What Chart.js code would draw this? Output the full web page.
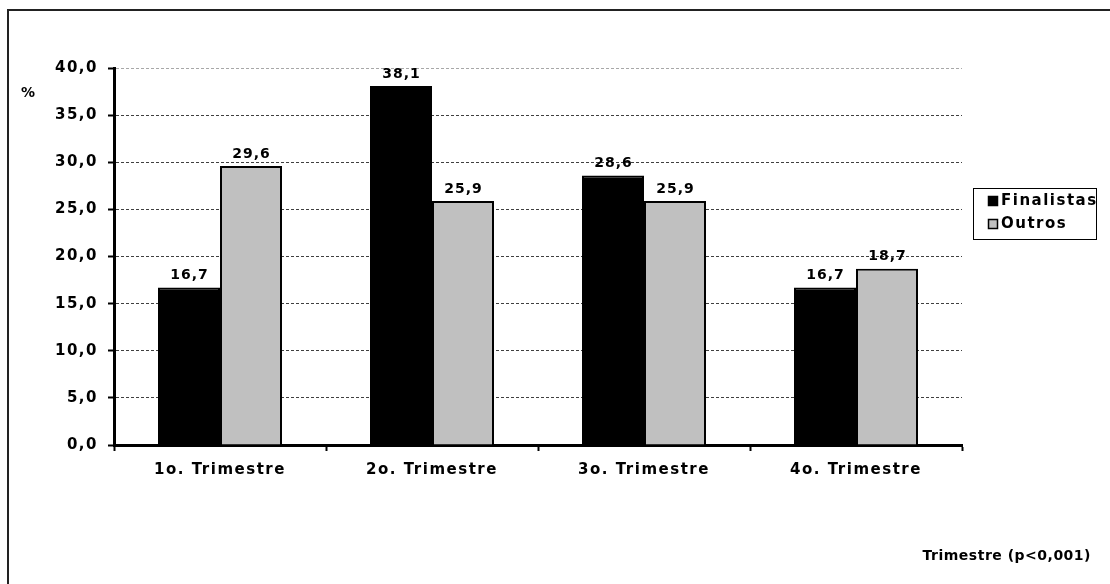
<!DOCTYPE html>
<html>
<head>
<meta charset="utf-8">
<script src="https://cdn.jsdelivr.net/npm/chart.js@4"></script>
<style>
  html, body { margin: 0; padding: 0; background: #fff; }
  canvas { display: block; }
</style>
</head>
<body>
<canvas id="c" width="1110" height="584"></canvas>
<script>
// Percentage of cases per quarter, finalists vs. others
const categories = ['1o. Trimestre', '2o. Trimestre', '3o. Trimestre', '4o. Trimestre'];
const finalistas = [16.7, 38.1, 28.6, 16.7];
const outros = [29.6, 25.9, 25.9, 18.7];
const seriesNames = ['Finalistas', 'Outros'];
const yTicks = [0, 5, 10, 15, 20, 25, 30, 35, 40];
const unitLabel = '%';
const axisTitle = 'Trimestre (p<0,001)';

const FONT = "'DejaVu Sans', sans-serif";
const fmt = v => Number(v).toFixed(1).replace('.', ',');

const decor = {
  id: 'decor',
  beforeLayout(chart) {
    chart.ctx.letterSpacing = '1.5px';
  },
  beforeDraw(chart) {
    const ctx = chart.ctx;
    ctx.letterSpacing = '1.5px';
    // outer frame
    ctx.save();
    ctx.strokeStyle = '#222';
    ctx.lineWidth = 2;
    ctx.strokeRect(8, 10, 1120, 600);
    ctx.restore();
  },
  afterDraw(chart) {
    const ctx = chart.ctx;
    ctx.save();
    ctx.fillStyle = '#000';

    // value labels above each bar
    ctx.font = 'bold 14px ' + FONT;
    ctx.letterSpacing = '1px';
    ctx.textAlign = 'center';
    ctx.textBaseline = 'middle';
    chart.data.datasets.forEach((ds, di) => {
      chart.getDatasetMeta(di).data.forEach((bar, i) => {
        ctx.fillText(fmt(ds.data[i]), bar.x + 0.5, bar.y - 12);
      });
    });

    // unit label beside the value axis
    ctx.font = 'bold 14px ' + FONT;
    ctx.letterSpacing = '0.5px';
    ctx.textAlign = 'left';
    ctx.fillText(unitLabel, 21, 93);

    // category axis title, bottom right
    ctx.textAlign = 'right';
    ctx.fillText(axisTitle, 1091, 556);

    // legend
    const lx = 973.5, ly = 188.5, lw = 123, lh = 51;
    ctx.strokeStyle = '#000';
    ctx.lineWidth = 1;
    ctx.strokeRect(lx, ly, lw, lh);
    ctx.font = 'bold 15px ' + FONT;
    ctx.letterSpacing = '1.5px';
    ctx.textAlign = 'left';
    chart.data.datasets.forEach((ds, di) => {
      const cy = 201 + di * 23;
      ctx.fillStyle = ds.backgroundColor;
      ctx.fillRect(988, cy - 5, 10, 10);
      ctx.lineWidth = 1.5;
      ctx.strokeRect(988.5, cy - 4.5, 9, 9);
      ctx.fillStyle = '#000';
      ctx.fillText(ds.label, 1001, cy);
    });
    ctx.restore();
  }
};

new Chart(document.getElementById('c'), {
  type: 'bar',
  data: {
    labels: categories,
    datasets: [
      { label: seriesNames[0], data: finalistas, backgroundColor: '#000000', borderColor: '#000', borderWidth: 2 },
      { label: seriesNames[1], data: outros, backgroundColor: '#C0C0C0', borderColor: '#000', borderWidth: 2 }
    ]
  },
  options: {
    responsive: false,
    animation: false,
    devicePixelRatio: 1,
    categoryPercentage: 0.5849,
    barPercentage: 1,
    layout: { padding: { top: 68, right: 148, bottom: 89, left: 0 } },
    plugins: { legend: { display: false }, tooltip: { enabled: false } },
    scales: {
      x: {
        offset: true,
        afterFit(s) { s.height = 50; },
        ticks: { font: { family: FONT, size: 15, weight: 'bold' }, color: '#000', padding: 10, maxRotation: 0, autoSkip: false },
        grid: { offset: true, drawOnChartArea: false, color: '#000', tickColor: '#000', tickLength: 6, tickWidth: 2 },
        border: { color: '#000', width: 3 }
      },
      y: {
        min: 0,
        max: 40,
        afterFit(s) { s.width = 114; },
        afterBuildTicks(s) { s.ticks = yTicks.map(v => ({ value: v })); },
        ticks: { callback: v => fmt(v), font: { family: FONT, size: 15, weight: 'bold' }, color: '#000', padding: 10 },
        grid: {
          color: c => (c.tick && c.tick.value === 40 ? '#a8a8a8' : '#404040'),
          lineWidth: 1,
          tickColor: '#000',
          tickLength: 6,
          tickWidth: 2,
          tickBorderDash: []
        },
        border: { color: '#000', width: 3, dash: [3, 2] }
      }
    }
  },
  plugins: [decor]
});
</script>
</body>
</html>
